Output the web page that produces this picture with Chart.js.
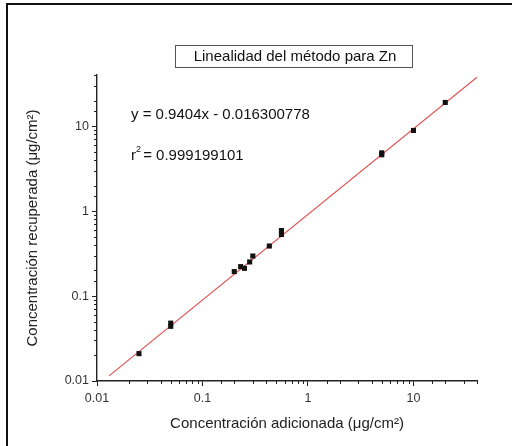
<!DOCTYPE html>
<html>
<head>
<meta charset="utf-8">
<script src="https://cdn.jsdelivr.net/npm/chart.js@4.4.1/dist/chart.umd.min.js"></script>
<style>
  html, body { margin: 0; padding: 0; background: #fff; }
  #wrap { position: relative; width: 512px; height: 446px; }
  canvas { display: block; }
</style>
</head>
<body>
<div id="wrap"><canvas id="myChart" width="512" height="446"></canvas></div>
<script>
// datos
const added_conc = [0.025, 0.05, 0.05, 0.2, 0.23, 0.25, 0.28, 0.3, 0.43, 0.56, 0.56, 5, 5, 10, 20];
const recovered_conc = [0.021, 0.044, 0.048, 0.194, 0.222, 0.212, 0.252, 0.296, 0.388, 0.53, 0.59, 4.6, 4.85, 8.9, 19.0];
const fit_x = [0.013, 40];
const fit_y = [0.0115, 37.6];
const major_ticks = [0.01, 0.1, 1, 10];
const title_text = 'Linealidad del método para Zn';
const eq_text = 'y = 0.9404x - 0.016300778';
const r2_text = '0.999199101';

const AXIS_COLOR = '#222';
const LINE_RED = 'rgb(225, 80, 80)';
const FONT = '"Liberation Sans", Arial, sans-serif';

function isMajor(v) {
  return major_ticks.some(m => Math.abs(v - m) / m < 1e-6);
}

// marco, cuadro del título, ecuación y marcas menores
const decorPlugin = {
  id: 'decor',
  beforeDraw(chart) {
    let ctx = chart.ctx;
    ctx.save();
    ctx.fillStyle = '#fff';
    ctx.fillRect(0, 0, chart.width, chart.height);
    ctx.strokeStyle = '#111';
    ctx.lineWidth = 2;
    ctx.beginPath();
    ctx.moveTo(7, chart.height);
    ctx.lineTo(7, 4);
    ctx.lineTo(chart.width, 4);
    ctx.stroke();
    ctx.restore();
  },
  afterDraw(chart) {
    let ctx = chart.ctx;
    ctx.save();
    // marcas menores
    ctx.strokeStyle = AXIS_COLOR;
    ctx.lineWidth = 1;
    let xs = chart.scales.x, ys = chart.scales.y;
    xs.ticks.forEach(t => {
      if (isMajor(t.value)) return;
      let px = Math.round(xs.getPixelForValue(t.value)) + 0.5;
      ctx.beginPath();
      ctx.moveTo(px, xs.top);
      ctx.lineTo(px, xs.top + 3);
      ctx.stroke();
    });
    ys.ticks.forEach(t => {
      if (isMajor(t.value)) return;
      let py = Math.round(ys.getPixelForValue(t.value)) + 0.5;
      ctx.beginPath();
      ctx.moveTo(ys.right, py);
      ctx.lineTo(ys.right - 3, py);
      ctx.stroke();
    });

    // título en recuadro
    ctx.strokeStyle = '#555';
    ctx.lineWidth = 1;
    ctx.strokeRect(175.5, 45.5, 237, 22);
    ctx.fillStyle = '#111';
    ctx.font = '15px ' + FONT;
    ctx.textAlign = 'center';
    ctx.textBaseline = 'middle';
    ctx.fillText(title_text, 295, 57);

    // ecuación de la recta
    ctx.textAlign = 'left';
    ctx.fillText(eq_text, 131, 115);
    ctx.fillText('r', 131, 156);
    ctx.font = '9px ' + FONT;
    ctx.fillText('2', 136, 150);
    ctx.font = '15px ' + FONT;
    ctx.fillText(' = ' + r2_text, 139, 156);
    ctx.restore();
  }
};

function makeChart() {
  let ctx = document.getElementById('myChart').getContext('2d');
  let points = added_conc.map((x, i) => ({x: x, y: recovered_conc[i]}));
  let fit = fit_x.map((x, i) => ({x: x, y: fit_y[i]}));

  let tickCallback = function(value) {
    return isMajor(value) ? String(value) : '';
  };

  return new Chart(ctx, {
    type: 'scatter',
    data: {
      datasets: [{
        label: 'ajuste',
        data: fit,
        showLine: true,
        borderColor: LINE_RED,
        borderWidth: 1.2,
        pointRadius: 0,
        order: 2
      },
      {
        label: 'Zn',
        data: points,
        pointStyle: 'rect',
        pointRadius: 3.6,
        backgroundColor: '#111',
        borderColor: '#111',
        borderWidth: 0,
        order: 1
      }]
    },
    options: {
      responsive: false,
      animation: false,
      layout: {
        padding: {left: 0, top: 75, right: 35, bottom: 0}
      },
      plugins: {
        legend: {display: false},
        tooltip: {enabled: false}
      },
      scales: {
        x: {
          type: 'logarithmic',
          min: 0.01,
          max: 40,
          afterFit: s => { s.height = 65; },
          border: {display: true, color: AXIS_COLOR, width: 1.4},
          grid: {
            drawOnChartArea: false,
            tickLength: 5,
            tickColor: c => (c.tick && isMajor(c.tick.value)) ? AXIS_COLOR : 'rgba(0,0,0,0)'
          },
          ticks: {
            autoSkip: false,
            maxRotation: 0,
            color: '#333',
            padding: 5,
            font: {family: FONT, size: 12.5},
            callback: tickCallback
          },
          title: {
            display: true,
            text: 'Concentración adicionada (μg/cm²)',
            color: '#222',
            font: {family: FONT, size: 15},
            padding: {top: 0, bottom: 13}
          }
        },
        y: {
          type: 'logarithmic',
          min: 0.01,
          max: 40,
          afterFit: s => { s.width = 97; },
          border: {display: true, color: AXIS_COLOR, width: 1.4},
          grid: {
            drawOnChartArea: false,
            tickLength: 5,
            tickColor: c => (c.tick && isMajor(c.tick.value)) ? AXIS_COLOR : 'rgba(0,0,0,0)'
          },
          ticks: {
            autoSkip: false,
            color: '#333',
            padding: 3,
            font: {family: FONT, size: 12.5},
            callback: tickCallback
          },
          title: {
            display: true,
            text: 'Concentración recuperada (μg/cm²)',
            color: '#222',
            font: {family: FONT, size: 15},
            padding: {top: 24, bottom: 0}
          }
        }
      }
    },
    plugins: [decorPlugin]
  });
}

let my_chart = makeChart();
</script>
</body>
</html>
